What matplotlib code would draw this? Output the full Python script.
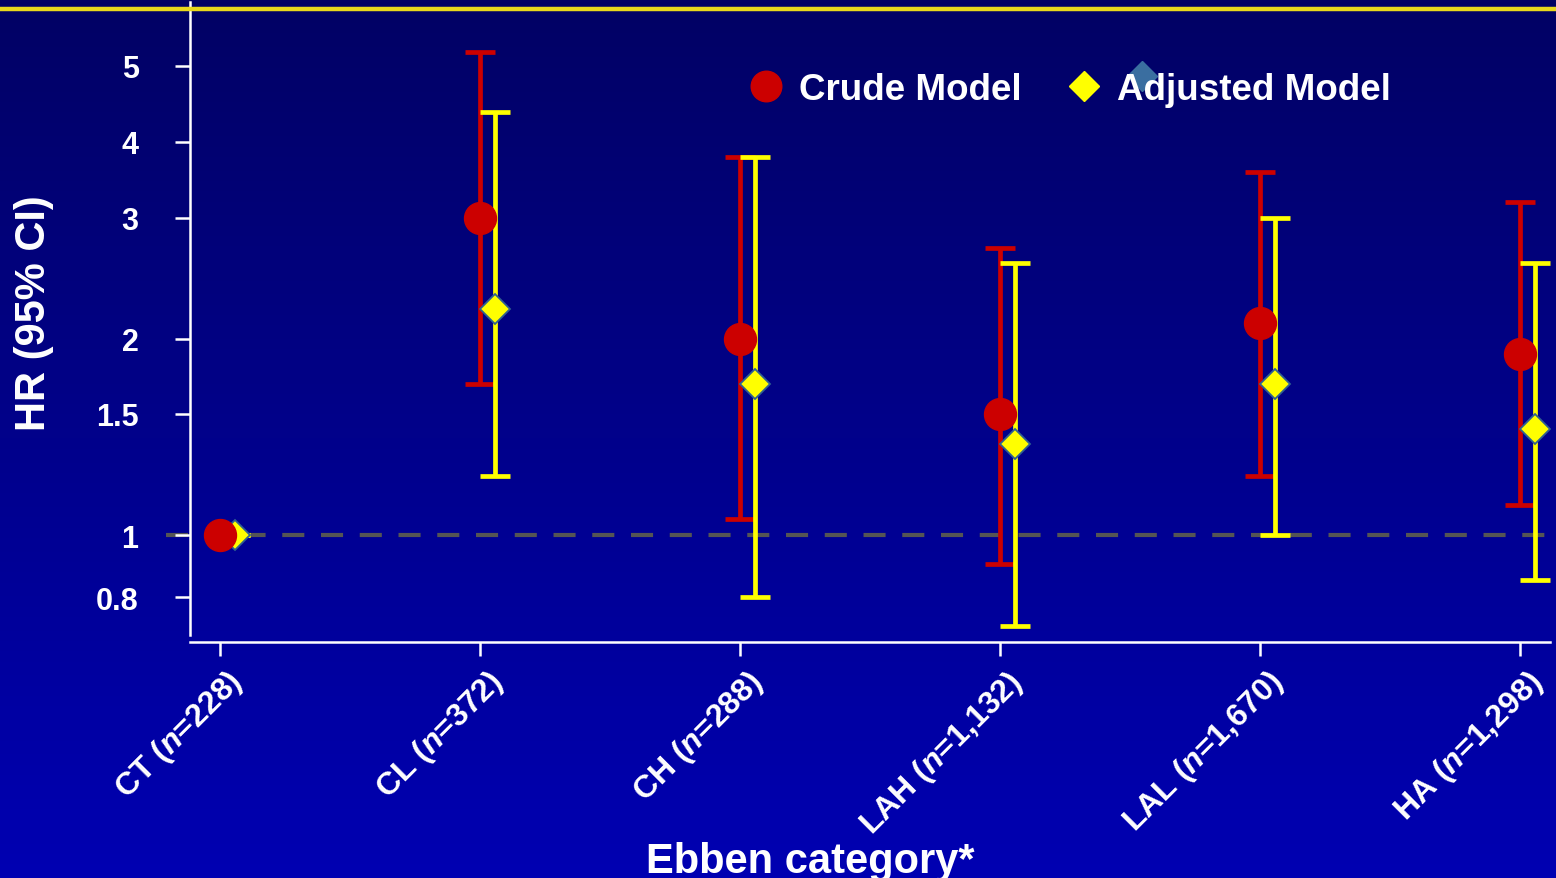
import matplotlib
matplotlib.use("Agg")
import matplotlib.pyplot as plt
from matplotlib.lines import Line2D
from matplotlib.colors import LinearSegmentedColormap
from matplotlib.transforms import ScaledTranslation
import numpy as np

plt.rcParams["font.family"] = ["Liberation Sans", "DejaVu Sans"]
plt.rcParams["font.weight"] = "bold"
plt.rcParams["mathtext.fontset"] = "custom"
plt.rcParams["mathtext.it"] = "Liberation Sans:bold:italic"
plt.rcParams["mathtext.rm"] = "Liberation Sans:bold"

# data
categorias = ["CT", "CL", "CH", "LAH", "LAL", "HA"]
n_casos = ["228", "372", "288", "1,132", "1,670", "1,298"]

crudo_hr = [1.0, 3.0, 2.0, 1.5, 2.11, 1.89]
crudo_lo = [1.0, 1.68, 1.055, 0.90, 1.22, 1.105]
crudo_hi = [1.0, 5.2, 3.78, 2.71, 3.57, 3.19]

ajust_hr = [1.0, 2.21, 1.68, 1.355, 1.68, 1.425]
ajust_lo = [1.0, 1.22, 0.80, 0.72, 1.0, 0.85]
ajust_hi = [1.0, 4.37, 3.78, 2.58, 3.0, 2.58]

marcas_y = [0.5, 0.8, 1, 1.5, 2, 3, 4, 5, 8]
etiq_y = ["0.8", "1", "1.5", "2", "3", "4", "5"]

# the original axis is not a clean log axis: spacing between labels
pos_y = np.array([-192.6, -62, 0, 121, 196, 317, 393, 469, 629])
log_y = np.log10(marcas_y)

def fwd(v):
    v = np.clip(np.asarray(v, dtype=float), 1e-6, None)
    return np.interp(np.log10(v), log_y, pos_y)

def inv(p):
    return 10 ** np.interp(p, pos_y, log_y)

rojo = "#cc0000"
amarillo = "#ffff00"
blanco = "white"

fig = plt.figure(figsize=(15.56, 8.79), dpi=100)

# fondo degradado
fondo = fig.add_axes([0, 0, 1, 1], zorder=-10)
grad = np.linspace(0, 1, 256).reshape(-1, 1)
cmap = LinearSegmentedColormap.from_list("bg", ["#020264", "#0000b2"])
fondo.imshow(grad, aspect="auto", cmap=cmap, extent=[0, 1, 0, 1], origin="upper")
fondo.axis("off")

fig.add_artist(Line2D([0, 1], [1 - 9.5 / 879, 1 - 9.5 / 879], color="#e8d81c",
                      lw=3.2, transform=fig.transFigure))

ax = fig.add_axes([190 / 1556, (879 - 636) / 879, 1360 / 1556, 633 / 879])
ax.patch.set_alpha(0)
ax.set_yscale("function", functions=(fwd, inv))

x = np.arange(len(categorias))
dx = 0.058

ax.axhline(1, xmin=-0.018, xmax=1, color="#555555", lw=3, ls=(0, (5.3, 4)),
           clip_on=False, zorder=1)

ax.errorbar(x, crudo_hr,
            yerr=[np.array(crudo_hr) - np.array(crudo_lo), np.array(crudo_hi) - np.array(crudo_hr)],
            fmt="none", ecolor=rojo, elinewidth=3.4, capsize=11, capthick=3.4, zorder=2)
ax.errorbar(x + dx, ajust_hr,
            yerr=[np.array(ajust_hr) - np.array(ajust_lo), np.array(ajust_hi) - np.array(ajust_hr)],
            fmt="none", ecolor=amarillo, elinewidth=3.4, capsize=11, capthick=3.4, zorder=3)
ax.plot(x + dx, ajust_hr, ls="none", marker="D", ms=15.5, color=amarillo,
        mec="#2f6090", mew=1.3, zorder=4)
ax.plot(x, crudo_hr, ls="none", marker="o", ms=23, color=rojo, mec=rojo, zorder=5)

ax.set_xlim(-30 / 260, 5 + 30 / 260)
ax.set_ylim(0.698, 6.03)
ax.set_yticks([float(t) for t in etiq_y])
ax.set_yticklabels(etiq_y)
ax.yaxis.set_minor_locator(plt.NullLocator())

for s in ["top", "right"]:
    ax.spines[s].set_visible(False)
ax.spines["left"].set_color(blanco)
ax.spines["bottom"].set_color(blanco)
ax.spines["left"].set_linewidth(1.8)
ax.spines["bottom"].set_linewidth(1.8)
ax.spines["bottom"].set_position(("outward", 5))
ax.tick_params(axis="y", colors=blanco, labelsize=22, length=11, width=1.8, pad=26)
ax.tick_params(axis="x", colors=blanco, length=10, width=1.8, pad=15)

ax.set_xticks(x)
ax.set_xticklabels([f"{c} ($\\mathit{{n}}$={n})" for c, n in zip(categorias, n_casos)])
for lab in ax.get_xticklabels():
    lab.set_rotation(45)
    lab.set_ha("right")
    lab.set_va("center")
    lab.set_rotation_mode("anchor")
    lab.set_fontsize(23)
    lab.set_color(blanco)

ax.set_ylabel("HR (95% CI)", color=blanco, fontsize=30, fontweight="bold")
ax.yaxis.set_label_coords(-0.100, 0.51)
fig.text(810 / 1556, 6 / 879, "Ebben category*", color=blanco, fontsize=30,
         fontweight="bold", ha="center", va="baseline")

# leyenda
h1 = Line2D([], [], ls="none", marker="o", ms=22, color=rojo)
h2 = Line2D([], [], ls="none", marker="D", ms=15.5, color=amarillo)
ley = ax.legend([h1, h2], ["Crude Model", "Adjusted Model"], ncol=2, frameon=False,
                loc="center left", bbox_to_anchor=(524 / 1360, 1 - 87 / 633),
                fontsize=26.5, handletextpad=0.4, columnspacing=1.2, handlelength=1.0)
for t in ley.get_texts():
    t.set_color(blanco)
    t.set_fontweight("bold")
ax.plot([(1142 - 190) / 1360], [1 - (77 - 3) / 633], marker="D", ms=15, color="#3a6ea0",
        transform=ax.transAxes, clip_on=False, zorder=0.5)

desplaza = ScaledTranslation(18 / 100, 0, fig.dpi_scale_trans)
for lab in ax.get_xticklabels():
    lab.set_transform(lab.get_transform() + desplaza)

fig.savefig("out.png", dpi=100)
